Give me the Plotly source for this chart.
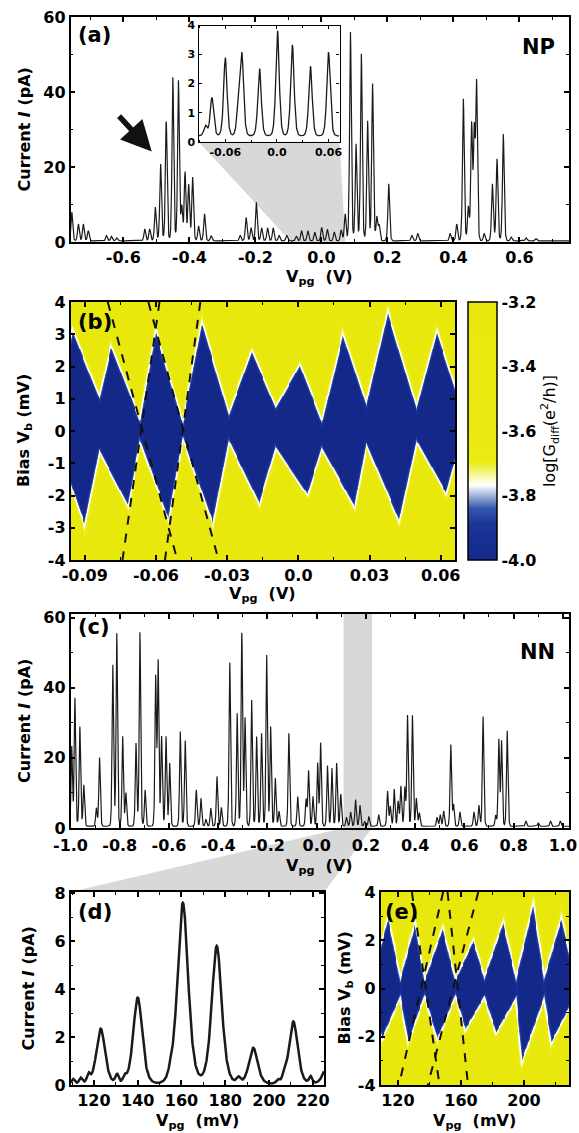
import numpy as np
import plotly.graph_objects as go

W, H = 579, 1133
FONT = "DejaVu Sans"

# ======================= DATA =======================
# (a) NP device: Coulomb peaks, gate voltage (V) and peak current (pA)
a_peak_v = [-0.756, -0.736, -0.721, -0.706, -0.651, -0.636, -0.620, -0.535, -0.520, -0.503,
            -0.487, -0.470, -0.450, -0.433, -0.423, -0.413, -0.402, -0.390, -0.372, -0.354,
            -0.334, -0.246, -0.228, -0.213, -0.197, -0.181, -0.163, -0.146, -0.128, -0.105,
            -0.076, -0.060, -0.041, -0.020, 0.001, 0.018, 0.039, 0.060, 0.072, 0.088,
            0.105, 0.121, 0.140, 0.155, 0.168, 0.175, 0.204, 0.274, 0.292, 0.390,
            0.410, 0.430, 0.445, 0.455, 0.463, 0.470, 0.493, 0.518, 0.532, 0.551,
            0.575, 0.620, 0.650]
a_peak_i = [7.7, 4.5, 4.5, 2.7, 1.4, 1.2, 0.8, 3.2, 3.2, 9.0,
            20.5, 31.8, 43.6, 42.7, 9.0, 18.3, 15.0, 17.0, 4.0, 7.2,
            1.4, 1.5, 6.3, 3.5, 10.3, 3.5, 3.5, 3.5, 1.5, 1.5,
            1.3, 2.7, 2.7, 2.3, 3.6, 3.1, 2.4, 2.9, 7.2, 55.7,
            25.9, 49.9, 32.0, 41.9, 6.3, 4.0, 15.2, 1.5, 2.0, 2.0,
            4.5, 37.9, 9.0, 30.8, 28.0, 41.4, 2.0, 15.2, 21.9, 28.5,
            1.0, 0.8, 0.6]
a_base = 0.3
a_width = 0.0034

# (a) inset
ins_peak_v = [-0.083, -0.0756, -0.060, -0.0447, -0.0407, -0.0202, 0.0007, 0.018, 0.039, 0.060]
ins_peak_i = [0.35, 1.32, 2.69, 1.0, 2.71, 2.32, 3.62, 3.14, 2.4, 2.89]
ins_base = 0.2
ins_width = 0.0026

# (b) Coulomb diamonds (V_pg in V, bias in mV)
b_neck_v = [-0.1022, -0.0838, -0.0666, -0.0487, -0.0292, -0.0094, 0.0101, 0.0288, 0.0500, 0.0686]
b_neck_top = [0.63, 1.05, 0.32, 0.26, 0.53, 0.74, 0.30, 0.80, 0.70, 0.80]
b_neck_bot = [-0.32, -0.63, -0.32, -0.21, -0.32, -0.53, -0.55, -0.40, -0.30, -0.30]
b_top_v = [-0.0951, -0.0788, -0.0601, -0.0406, -0.0195, 0.0008, 0.0190, 0.0378, 0.0585]
b_top_vb = [3.11, 2.63, 3.11, 3.37, 2.47, 2.05, 3.00, 3.70, 3.08]
b_bot_v = [-0.0900, -0.0718, -0.0546, -0.0359, -0.0164, 0.0039, 0.0238, 0.0427, 0.0625]
b_bot_vb = [-2.93, -2.32, -2.74, -2.89, -2.26, -1.98, -2.35, -2.80, -1.95]
b_line_top_v = [-0.0803, -0.0585, -0.0632, -0.0413]
b_line_bot_v = [-0.0510, -0.0741, -0.0336, -0.0562]

# (c) NN device
c_peak_v = [-0.995, -0.982, -0.962, -0.946, -0.895, -0.882, -0.828, -0.812, -0.788, -0.775,
            -0.734, -0.718, -0.697, -0.654, -0.644, -0.630, -0.612, -0.597, -0.554, -0.534,
            -0.489, -0.470, -0.450, -0.430, -0.405, -0.387, -0.353, -0.323, -0.304, -0.291,
            -0.264, -0.244, -0.224, -0.203, -0.187, -0.168, -0.153, -0.113, -0.077, -0.043,
            -0.033, -0.015, 0.004, 0.016, 0.044, 0.062, 0.081, 0.098, 0.121, 0.138,
            0.158, 0.176, 0.195, 0.212, 0.252, 0.288, 0.299, 0.315, 0.331, 0.342,
            0.358, 0.369, 0.389, 0.405, 0.417, 0.489, 0.502, 0.516, 0.545, 0.556,
            0.582, 0.639, 0.659, 0.676, 0.727, 0.740, 0.751, 0.774, 0.850, 0.900,
            0.950, 0.990]
c_peak_i = [22.7, 36.5, 28.4, 11.8, 5.2, 19.6, 46.0, 55.0, 25.6, 9.5,
            23.7, 55.3, 10.4, 42.2, 46.7, 25.6, 25.6, 18.0, 27.0, 24.4,
            10.4, 8.0, 2.0, 5.2, 14.2, 5.4, 46.7, 32.2, 55.0, 30.8,
            36.0, 25.6, 26.5, 48.8, 28.4, 13.7, 4.3, 26.5, 8.5, 7.6,
            15.8, 8.5, 18.0, 23.7, 17.3, 16.6, 18.0, 9.2, 2.6, 4.1,
            7.6, 6.0, 1.4, 2.8, 3.3, 10.0, 5.7, 10.6, 7.1, 11.4,
            10.9, 31.6, 31.6, 8.0, 3.8, 2.6, 3.3, 4.4, 23.2, 6.1,
            4.1, 4.1, 6.0, 31.3, 3.1, 24.6, 24.2, 27.2, 1.5, 1.0,
            1.5, 1.5]
c_base = 0.5
c_width = 0.0038

# (d) zoom of NN device (mV, pA)
d_peak_mv = [110.5, 114.0, 117.5, 123.1, 130.5, 134.0, 140.0, 155.0, 160.6, 176.1,
             186.0, 192.8, 204.0, 207.0, 211.1, 219.0, 226.5]
d_peak_pa = [0.20, 0.25, 0.35, 2.30, 0.40, 0.25, 3.60, 0.20, 7.55, 5.75,
             0.25, 1.50, 0.15, 0.30, 2.60, 0.30, 0.70]
d_peak_w = [1.0, 1.0, 1.0, 2.6, 1.0, 1.0, 2.7, 1.2, 3.2, 3.0,
            1.2, 2.6, 1.0, 1.0, 2.6, 1.0, 2.5]
d_base = 0.05

# (e) Coulomb diamonds of the NN device (V_pg in mV, bias in mV)
e_neck_v = [104.0, 121.5, 137.0, 156.5, 175.0, 195.0, 213.0, 232.0]
e_neck_top = [0.50, 0.40, 0.35, 0.35, 0.45, 0.40, 0.45, 0.50]
e_neck_bot = [-0.40, -0.35, -0.30, -0.30, -0.35, -0.40, -0.40, -0.40]
e_top_v = [113.9, 131.0, 148.5, 168.0, 187.0, 206.0, 224.0]
e_top_vb = [2.95, 2.70, 2.50, 2.00, 2.75, 3.50, 2.94]
e_bot_v = [110.0, 126.5, 145.2, 163.0, 182.5, 198.8, 217.5]
e_bot_vb = [-2.10, -2.26, -2.13, -1.71, -1.85, -3.03, -2.26]
e_line_top_mv = [128.9, 148.7, 151.5, 171.0]
e_line_bot_mv = [146.4, 120.7, 164.5, 139.0]

# tick labels
a_xticks = ["-0.6", "-0.4", "-0.2", "0.0", "0.2", "0.4", "0.6"]
a_yticks = ["0", "20", "40", "60"]
ins_xticks = ["-0.06", "0.0", "0.06"]
ins_yticks = ["0", "1", "2", "3", "4"]
b_xticks = ["-0.09", "-0.06", "-0.03", "0.0", "0.03", "0.06"]
b_yticks = ["-4", "-3", "-2", "-1", "0", "1", "2", "3", "4"]
cbar_ticks = ["-4.0", "-3.8", "-3.6", "-3.4", "-3.2"]
c_xticks = ["-1.0", "-0.8", "-0.6", "-0.4", "-0.2", "0.0", "0.2", "0.4", "0.6", "0.8", "1.0"]
c_yticks = ["0", "20", "40", "60"]
d_xticks = ["120", "140", "160", "180", "200", "220"]
d_yticks = ["0", "2", "4", "6", "8"]
e_xticks = ["120", "160", "200"]
e_yticks = ["-4", "-2", "0", "2", "4"]

# ======================= LAYOUT CONSTANTS =======================
BOX_A = (70.5, 569.0, 17.0, 242.0)    # left, right, top, bottom (px)
BOX_INS = (198.5, 339.5, 25.5, 141.7)
BOX_B = (70.5, 455.0, 302.0, 560.0)
BOX_C = (70.5, 569.0, 614.0, 828.0)
BOX_D = (70.5, 324.0, 892.0, 1085.0)
BOX_E = (380.5, 569.0, 892.0, 1085.0)

R_A_X, R_A_Y = [-0.76, 0.75], [0, 60]
R_I_X, R_I_Y = [-0.0912, 0.0728], [0, 4]
R_B_X, R_B_Y = [-0.096, 0.066], [-4, 4]
R_C_X, R_C_Y = [-1.0, 1.025], [0, 61]
R_D_X, R_D_Y = [109.3, 225.1], [0, 8.05]
R_E_X, R_E_Y = [109.0, 228.5], [-4, 4]


def dx(box):
    return [box[0] / W, box[1] / W]


def dy(box):
    return [1 - box[3] / H, 1 - box[2] / H]


def sech2_sum(x, pos, amp, w, base):
    x = np.asarray(x, dtype=float)[:, None]
    p = np.asarray(pos, dtype=float)[None, :]
    a = np.asarray(amp, dtype=float)[None, :]
    ww = np.broadcast_to(np.asarray(w, dtype=float), (len(pos),))[None, :]
    arg = np.clip((x - p) / ww, -40, 40)
    return base + (a / np.cosh(arg) ** 2).sum(axis=1)


def diamond_z(xg, yg, nx_, ntop, nbot, tx, ty, bx, by, sx, sy):
    """Union of Coulomb-blockade diamonds; each one bounded by its four slanted edges
    (the vertical neck edges are left open so neighbouring diamonds merge smoothly)."""
    X, Y = np.meshgrid(xg, yg)
    PX, PY = X * sx, Y * sy
    best = np.full(X.shape, np.inf)
    for k in range(len(tx)):
        edges = [((nx_[k], nbot[k]), (bx[k], by[k])),
                 ((bx[k], by[k]), (nx_[k + 1], nbot[k + 1])),
                 ((nx_[k + 1], ntop[k + 1]), (tx[k], ty[k])),
                 ((tx[k], ty[k]), (nx_[k], ntop[k]))]
        f = np.full(X.shape, -np.inf)
        for (ax0, ay0), (ax1, ay1) in edges:
            x0, y0, x1, y1 = ax0 * sx, ay0 * sy, ax1 * sx, ay1 * sy
            ddx, ddy = x1 - x0, y1 - y0
            L = np.hypot(ddx, ddy)
            f = np.maximum(f, (ddy / L) * (PX - x0) - (ddx / L) * (PY - y0))
        best = np.minimum(best, f)
    d = best
    frac = np.where(d > 0, 0.29 + 0.71 * np.clip(d / 5.0, 0, 1) ** 2,
                    0.29 * (1 - np.clip(-d / 2.5, 0, 1)))
    return np.round(-4.0 + 0.8 * frac, 3)


# ======================= CURVES =======================
xa = np.linspace(R_A_X[0], R_A_X[1], 3021)
ya = sech2_sum(xa, a_peak_v, a_peak_i, a_width, a_base)
xi = np.linspace(R_I_X[0], R_I_X[1], 700)
yi = sech2_sum(xi, ins_peak_v, ins_peak_i, ins_width, ins_base)
xc = np.linspace(R_C_X[0], R_C_X[1], 4051)
yc = sech2_sum(xc, c_peak_v, c_peak_i, c_width, c_base)
xd = np.linspace(R_D_X[0], R_D_X[1], 800)
yd = sech2_sum(xd, d_peak_mv, d_peak_pa, d_peak_w, d_base)

sxb = (BOX_B[1] - BOX_B[0]) / (R_B_X[1] - R_B_X[0])
syb = (BOX_B[3] - BOX_B[2]) / (R_B_Y[1] - R_B_Y[0])
xgb = np.linspace(R_B_X[0], R_B_X[1], 400)
ygb = np.linspace(R_B_Y[0], R_B_Y[1], 270)
zb = diamond_z(xgb, ygb, b_neck_v, b_neck_top, b_neck_bot, b_top_v, b_top_vb,
               b_bot_v, b_bot_vb, sxb, syb)

sxe = (BOX_E[1] - BOX_E[0]) / (R_E_X[1] - R_E_X[0])
sye = (BOX_E[3] - BOX_E[2]) / (R_E_Y[1] - R_E_Y[0])
xge = np.linspace(R_E_X[0], R_E_X[1], 220)
yge = np.linspace(R_E_Y[0], R_E_Y[1], 220)
ze = diamond_z(xge, yge, e_neck_v, e_neck_top, e_neck_bot, e_top_v, e_top_vb,
               e_bot_v, e_bot_vb, sxe, sye)

CSCALE = [[0.0, "#14288a"], [0.14, "#1a3797"], [0.2, "#3556ad"], [0.25, "#a3b5da"],
          [0.29, "#ffffff"], [0.33, "#f6f69a"], [0.38, "#ebeb14"], [1.0, "#e8e80c"]]

LINE = "#1a1a1a"
TF = dict(family=FONT, size=16, color="black", weight="bold")
fig = go.Figure()
fig.add_trace(go.Scatter(x=xa, y=ya, mode="lines", line=dict(color=LINE, width=1.2),
                         xaxis="x", yaxis="y", showlegend=False, hoverinfo="skip"))
fig.add_trace(go.Scatter(x=xi, y=yi, mode="lines", line=dict(color=LINE, width=1.3),
                         xaxis="x2", yaxis="y2", showlegend=False, hoverinfo="skip"))
fig.add_trace(go.Heatmap(x=xgb, y=ygb, z=zb, zmin=-4.0, zmax=-3.2, colorscale=CSCALE,
                         xaxis="x3", yaxis="y3", hoverinfo="skip",
                         colorbar=dict(x=468 / W, xanchor="left", xpad=0, ypad=0,
                                       y=1 - (BOX_B[2] + BOX_B[3]) / 2 / H, yanchor="middle",
                                       len=(BOX_B[3] - BOX_B[2]) / H, lenmode="fraction",
                                       thickness=29, thicknessmode="pixels",
                                       outlinecolor="black", outlinewidth=1.5,
                                       tickvals=[float(t) for t in cbar_ticks],
                                       ticktext=cbar_ticks, ticks="", tickfont=TF,
                                       title=dict(text="log[G<sub>diff</sub>(e<sup>2</sup>/h)]",
                                                  side="right",
                                                  font=dict(family=FONT, size=16, color="black",
                                                            weight="normal")))))
for t, b in zip(b_line_top_v, b_line_bot_v):
    fig.add_trace(go.Scatter(x=[t, b], y=[R_B_Y[1], R_B_Y[0]], mode="lines",
                             line=dict(color="#111111", width=2, dash="dash"),
                             xaxis="x3", yaxis="y3", showlegend=False, hoverinfo="skip"))
fig.add_trace(go.Scatter(x=xc, y=yc, mode="lines", line=dict(color=LINE, width=1.2),
                         xaxis="x4", yaxis="y4", showlegend=False, hoverinfo="skip"))
fig.add_trace(go.Scatter(x=xd, y=yd, mode="lines", line=dict(color=LINE, width=2.5),
                         xaxis="x5", yaxis="y5", showlegend=False, hoverinfo="skip"))
fig.add_trace(go.Heatmap(x=xge, y=yge, z=ze, zmin=-4.0, zmax=-3.2, colorscale=CSCALE,
                         xaxis="x6", yaxis="y6", showscale=False, hoverinfo="skip"))
for t, b in zip(e_line_top_mv, e_line_bot_mv):
    fig.add_trace(go.Scatter(x=[t, b], y=[R_E_Y[1], R_E_Y[0]], mode="lines",
                             line=dict(color="#111111", width=2, dash="dash"),
                             xaxis="x6", yaxis="y6", showlegend=False, hoverinfo="skip"))


def axis(box_dom, rng, anchor, labels, minor_dtick=None, font=TF, ticklen=5, lw=1.5, **extra):
    d = dict(domain=box_dom, range=rng, anchor=anchor, showline=True, linecolor="black",
             linewidth=lw, mirror="allticks", ticks="inside", ticklen=ticklen, tickwidth=lw,
             tickcolor="black", showgrid=False, zeroline=False, tickfont=font,
             automargin=False,
             tickmode="array", tickvals=[float(t) for t in labels], ticktext=labels)
    if minor_dtick is not None:
        d["minor"] = dict(dtick=minor_dtick, tick0=0, ticks="inside", ticklen=max(2, ticklen - 2),
                          tickcolor="black", tickwidth=1)
    d.update(extra)
    return d


small = dict(family=FONT, size=11, color="black", weight="bold")
layout = dict(
    width=W, height=H, margin=dict(l=0, r=0, t=0, b=0, pad=0, autoexpand=False),
    paper_bgcolor="white", plot_bgcolor="rgba(0,0,0,0)", showlegend=False,
    xaxis=axis(dx(BOX_A), R_A_X, "y", a_xticks, 0.1),
    yaxis=axis(dy(BOX_A), R_A_Y, "x", a_yticks, 10),
    xaxis2=axis(dx(BOX_INS), R_I_X, "y2", ins_xticks, 0.03, small, 3, 1.2),
    yaxis2=axis(dy(BOX_INS), R_I_Y, "x2", ins_yticks, None, small, 3, 1.2),
    xaxis3=axis(dx(BOX_B), R_B_X, "y3", b_xticks, 0.015),
    yaxis3=axis(dy(BOX_B), R_B_Y, "x3", b_yticks, None),
    xaxis4=axis(dx(BOX_C), R_C_X, "y4", c_xticks, 0.1, ticklabeloverflow="allow",
                ticklabelstandoff=2),
    yaxis4=axis(dy(BOX_C), R_C_Y, "x4", c_yticks, 10),
    xaxis5=axis(dx(BOX_D), R_D_X, "y5", d_xticks, 10),
    yaxis5=axis(dy(BOX_D), R_D_Y, "x5", d_yticks, 1),
    xaxis6=axis(dx(BOX_E), R_E_X, "y6", e_xticks, 20),
    yaxis6=axis(dy(BOX_E), R_E_Y, "x6", e_yticks, 1),
)
fig.update_layout(**layout)


# ---- gray guide shapes ----
def px2x(px, box, rng):
    return rng[0] + (px - box[0]) / (box[1] - box[0]) * (rng[1] - rng[0])


def py2y(py, box, rng):
    return rng[0] + (box[3] - py) / (box[3] - box[2]) * (rng[1] - rng[0])


GRAY = "#d8d8d8"
tlx = px2x(BOX_INS[0], BOX_A, R_A_X)
trx = px2x(BOX_INS[1], BOX_A, R_A_X)
tyy = py2y(BOX_INS[3], BOX_A, R_A_Y)
path_a = f"M {tlx},{tyy} L {R_I_X[0]},{R_A_Y[0]} L {R_I_X[1]},{R_A_Y[0]} L {trx},{tyy} Z"
shapes = [dict(type="path", path=path_a, xref="x", yref="y", fillcolor=GRAY,
               line=dict(width=0), layer="below")]
band0, band1 = R_D_X[0] / 1000.0, R_D_X[1] / 1000.0
shapes.append(dict(type="rect", x0=band0, x1=band1, y0=0, y1=1, xref="x4", yref="y4 domain",
                   fillcolor=GRAY, line=dict(width=0), layer="below"))
cx = lambda v: (BOX_C[0] + (v - R_C_X[0]) / (R_C_X[1] - R_C_X[0]) * (BOX_C[1] - BOX_C[0])) / W
cb = 1 - BOX_C[3] / H
dt = 1 - BOX_D[2] / H
path_cd = (f"M {cx(band0)},{cb} L {BOX_D[0] / W},{dt} L {BOX_D[1] / W},{dt} "
           f"L {cx(band1)},{cb} Z")
shapes.append(dict(type="path", path=path_cd, xref="paper", yref="paper", fillcolor=GRAY,
                   line=dict(width=0), layer="below"))
fig.update_layout(shapes=shapes)


# ---- text annotations ----
def ann(text, px, py, size=16, angle=0, xa="center", ya="middle", weight="bold"):
    return dict(text=text, x=px / W, y=1 - py / H, xref="paper", yref="paper",
                showarrow=False, textangle=angle, xanchor=xa, yanchor=ya,
                font=dict(family=FONT, size=size, color="black", weight=weight))


VPG = "V<sub>pg</sub>\u00a0 "
anns = [
    ann("(a)", 76, 21, 21, xa="left", ya="top"),
    ann("NP", 557, 33, 21, xa="right", ya="top"),
    ann("(b)", 76, 308, 21, xa="left", ya="top"),
    ann("(c)", 76, 613, 21, xa="left", ya="top"),
    ann("NN", 557, 638, 21, xa="right", ya="top"),
    ann("(d)", 76, 898, 21, xa="left", ya="top"),
    ann("(e)", 383, 898, 21, xa="left", ya="top"),
    ann("Current <i>I</i> (pA)", 24, (BOX_A[2] + BOX_A[3]) / 2, angle=-90),
    ann(VPG + "(V)", (BOX_A[0] + BOX_A[1]) / 2, 277),
    ann("Bias V<sub>b</sub> (mV)", 24, (BOX_B[2] + BOX_B[3]) / 2, angle=-90),
    ann(VPG + "(V)", (BOX_B[0] + BOX_B[1]) / 2, 594),
    ann("Current <i>I</i> (pA)", 24, (BOX_C[2] + BOX_C[3]) / 2, angle=-90),
    ann(VPG + "(V)", (BOX_C[0] + BOX_C[1]) / 2, 866),
    ann("Current <i>I</i> (pA)", 28, (BOX_D[2] + BOX_D[3]) / 2, angle=-90),
    ann(VPG + "(mV)", (BOX_D[0] + BOX_D[1]) / 2, 1121),
    ann("Bias V<sub>b</sub> (mV)", 345, (BOX_E[2] + BOX_E[3]) / 2, angle=-90),
    ann(VPG + "(mV)", (BOX_E[0] + BOX_E[1]) / 2, 1121),
]
ARROW_HEAD = (-0.514, 24.1)
anns.append(dict(x=ARROW_HEAD[0], y=ARROW_HEAD[1], xref="x", yref="y", text="",
                 showarrow=True, ax=-34, ay=-37, arrowhead=2, arrowsize=1.1,
                 arrowwidth=5.5, arrowcolor="#111111"))
fig.update_layout(annotations=anns)

fig.write_html("out.html", config={"displayModeBar": False},
               post_script="document.body.style.margin='0px';document.body.style.padding='0px';"
                           "document.documentElement.style.overflow='hidden';")
